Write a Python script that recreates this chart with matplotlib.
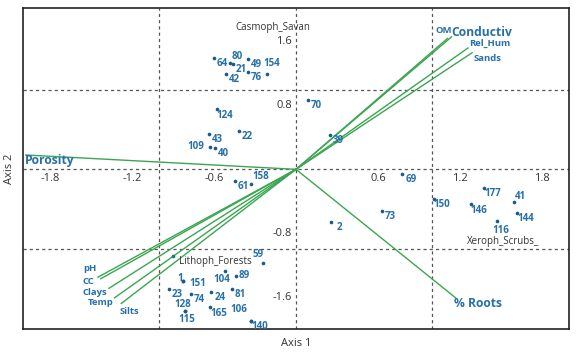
import matplotlib
matplotlib.use('Agg')
import matplotlib.pyplot as plt

plt.rcParams['font.family'] = ['Open Sans', 'DejaVu Sans']

### Sample scores (axis 1, axis 2)
site_names = ['64', '80', '21', '49', '42', '76', '154', '124', '43', '22', '109', '40',
              '61', '158', '70', '39', '69', '73', '2', '150', '177', '146', '41', '144',
              '116', '59', '104', '89', '1', '151', '23', '74', '24', '81', '128', '115',
              '165', '106', '140']
site_x = [-0.60, -0.48, -0.46, -0.35, -0.51, -0.35, -0.21, -0.58, -0.64, -0.42, -0.63, -0.59,
          -0.45, -0.33, 0.09, 0.25, 0.78, 0.63, 0.26, 1.01, 1.38, 1.28, 1.60, 1.62,
          1.47, -0.24, -0.52, -0.44, -0.83, -0.83, -0.93, -0.77, -0.62, -0.47, -0.81, -0.81,
          -0.63, -0.33, -0.33]
site_y = [1.40, 1.33, 1.32, 1.38, 1.20, 1.22, 1.20, 0.75, 0.44, 0.48, 0.28, 0.27,
          -0.15, -0.18, 0.87, 0.43, -0.06, -0.52, -0.66, -0.37, -0.23, -0.44, -0.41, -0.55,
          -0.65, -1.17, -1.27, -1.33, -1.40, -1.40, -1.50, -1.56, -1.54, -1.50, -1.78, -1.78,
          -1.73, -1.90, -1.90]

### Environmental variables (biplot arrows)
env_names = ['OM', 'Conductiv', 'Rel_Hum', 'Sands', 'Porosity', '% Roots',
             'pH', 'CC', 'Clays', 'Temp', 'Silts']
env_x = [1.11, 1.14, 1.26, 1.29, -1.98, 1.17, -1.45, -1.43, -1.37, -1.33, -1.28]
env_y = [1.64, 1.66, 1.52, 1.46, 0.18, -1.61, -1.35, -1.37, -1.49, -1.61, -1.68]

### Nominal variable centroids
cent_names = ['Casmoph_Savan', 'Lithoph_Forests', 'Xeroph_Scrubs_']
cent_x = [-0.17, -0.90, 1.52]
cent_y = [1.78, -1.08, -0.90]

tick_vals_x = [-1.8, -1.2, -0.6, 0.6, 1.2, 1.8]
tick_vals_y = [1.6, 0.8, -0.8, -1.6]

## label offsets in points (dx, dy), default is lower right of the dot
site_off = {'80': (5, 5), '21': (6, -4), '154': (3, 7), '109': (-10, 0), '158': (7, 5),
            '41': (4, 4), '116': (3, -7), '59': (-4, 6), '104': (-2, -6), '89': (6, 0),
            '1': (-2, 2), '151': (11, -2), '128': (-2, 5), '115': (1, -6),
            '106': (-9, 8)}
env_off = {'OM': (-3, 6), 'Conductiv': (22, 3), 'Rel_Hum': (16, 3), 'Sands': (11, -4),
           'Porosity': (17, -4), '% Roots': (16, -4), 'pH': (-6, 6), 'CC': (-9, -2),
           'Clays': (-10, -3), 'Temp': (-10, -3.5), 'Silts': (6, -6)}
big_env = ['Conductiv', 'Porosity', '% Roots']

blue = '#2670a8'
dot_blue = '#1b5a8c'
green = '#3aa651'

fig = plt.figure(figsize=(5.79, 3.57), dpi=100)
ax = fig.add_axes([0.0397, 0.0784, 0.943, 0.899])
ax.set_xlim(-2.0, 2.0)
ax.set_ylim(-2.0, 2.02)

for v in [-1, 0, 1]:
    ax.axvline(v, color='#555555', lw=0.9, ls=(0, (2.5, 2.5)), zorder=1)
    ax.axhline(v, color='#555555', lw=0.9, ls=(0, (2.5, 2.5)), zorder=1)

for t in tick_vals_x:
    ax.text(t, -0.05, str(t), ha='center', va='top', fontsize=8, color='#333333', zorder=2)
for t in tick_vals_y:
    ax.text(-0.03, t, str(t), ha='right', va='center', fontsize=8, color='#333333', zorder=2)

for name, x, y in zip(env_names, env_x, env_y):
    ax.plot([0, x], [0, y], color=green, lw=1.0, zorder=3)
    ax.annotate(name, (x, y), xytext=env_off[name], textcoords='offset points',
                ha='center', va='center', color=blue, fontweight='bold',
                fontsize=8.7 if name in big_env else 6.8, zorder=5)

ax.scatter(site_x, site_y, s=7, color=dot_blue, zorder=4, linewidths=0)
for name, x, y in zip(site_names, site_x, site_y):
    dx, dy = site_off.get(name, (6, -4))
    ax.annotate(name, (x, y), xytext=(dx, dy), textcoords='offset points',
                ha='center', va='center', color=blue, fontweight='bold',
                fontsize=7, zorder=5)

for name, x, y in zip(cent_names, cent_x, cent_y):
    if name == 'Lithoph_Forests':
        ax.scatter([x], [y], s=7, color='#1d7a6c', zorder=4, linewidths=0)
        ax.annotate(name, (x, y), xytext=(4, -4), textcoords='offset points',
                    ha='left', va='center', fontsize=7, color='#333333', zorder=5)
    else:
        ax.text(x, y, name, ha='center', va='center', fontsize=7, color='#333333', zorder=5)

ax.set_xticks([])
ax.set_yticks([])
for s in ax.spines.values():
    s.set_linewidth(1.2)
    s.set_color('#222222')

fig.text(296 / 579, 1 - 343 / 357, 'Axis 1', ha='center', va='center', fontsize=8, color='#333333')
fig.text(10 / 579, 1 - 169 / 357, 'Axis 2', ha='center', va='center', fontsize=8,
         color='#333333', rotation=90)

fig.savefig('out.png', dpi=100)
